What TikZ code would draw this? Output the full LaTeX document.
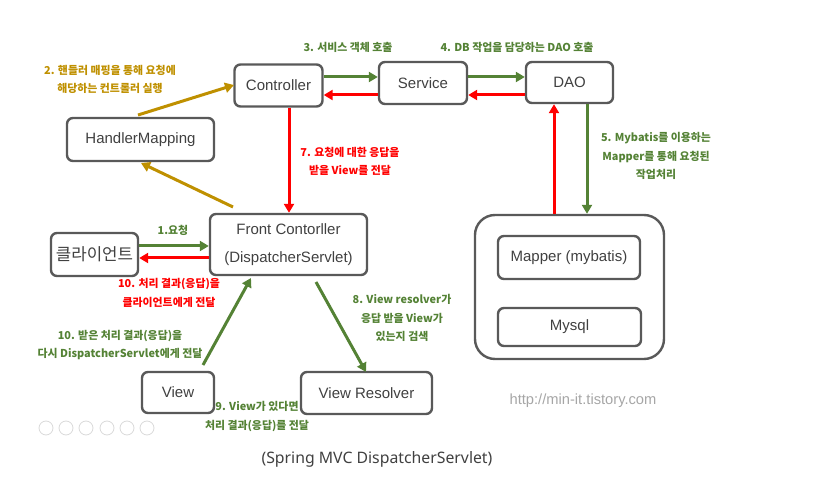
\documentclass[tikz,border=0pt]{standalone}
\usepackage{fontspec}
\setmainfont{Liberation Sans}
\newfontfamily\kr{Noto Sans CJK KR}
\newfontfamily\capfont{Noto Sans}
\usetikzlibrary{arrows.meta}
\definecolor{gr}{HTML}{548235}
\definecolor{rd}{HTML}{FF0000}
\definecolor{gd}{HTML}{BF9000}
\definecolor{bx}{HTML}{595959}
\definecolor{tx}{HTML}{404040}
\begin{document}
\begin{tikzpicture}[x=1pt,y=-1pt,
  box/.style={draw=bx,line width=2.4pt,rounded corners=6pt,inner sep=0pt,text=tx,font=\fontsize{15}{17}\selectfont},
  lbl/.style={font=\kr\bfseries\fontsize{10.9}{18.5}\selectfont,align=center,inner sep=0pt},
  arr/.style={line width=3pt,-{Triangle[length=9pt,width=10pt]}},
  garr/.style={arr,draw=gr,color=gr},
  rarr/.style={arr,draw=rd,color=rd},
  yarr/.style={arr,draw=gd,color=gd}]
\useasboundingbox (0,0) rectangle (823,481);
% boxes
\node[box,minimum width=88pt,minimum height=42pt] (ctrl) at (278.5,85.5) {Controller};
\node[box,minimum width=88pt,minimum height=42pt] (svc) at (423,83) {Service};
\node[box,minimum width=87pt,minimum height=41pt] (dao) at (569.5,82.5) {DAO};
\node[box,minimum width=147pt,minimum height=43pt] (hm) at (140.5,139.5) {HandlerMapping};
\node[box,minimum width=157pt,minimum height=61pt,align=center,font=\fontsize{15}{28}\selectfont] (fc) at (288.5,244.5) {Front Contorller\\(DispatcherServlet)};
\node[box,minimum width=87pt,minimum height=43pt,font=\kr\fontsize{16.8}{18}\selectfont] (cl) at (94.5,254.5) {클라이언트};
\node[box,minimum width=72pt,minimum height=41pt] (view) at (178,392.5) {View};
\node[box,minimum width=131pt,minimum height=42pt] (vr) at (366.5,393) {View Resolver};
\node[box,minimum width=189pt,minimum height=144pt,rounded corners=20pt] (db) at (569.5,287) {};
\node[box,minimum width=142pt,minimum height=43pt] (mp) at (569,257.5) {Mapper (mybatis)};
\node[box,minimum width=143pt,minimum height=38pt] (my) at (569.5,327) {Mysql};
% arrows
\draw[garr] (ctrl.east |- 0,77) -- (svc.west |- 0,77);
\draw[rarr] (svc.west |- 0,95) -- (ctrl.east |- 0,95);
\draw[garr] (svc.east |- 0,77) -- (dao.west |- 0,77);
\draw[rarr] (dao.west |- 0,95) -- (svc.east |- 0,95);
\draw[rarr] (db.north -| 554,0) -- (dao.south -| 554,0);
\draw[garr] (dao.south -| 587,0) -- (db.north -| 587,0);
\draw[rarr] (ctrl.south -| 289,0) -- (fc.north -| 289,0);
\coordinate (hmtop) at (138,115);
\coordinate (hmbot) at (141,163);
\coordinate (fctop) at (233,207);
\coordinate (ctrlin) at (234,85);
\draw[yarr] (hmtop) -- (ctrlin);
\draw[yarr] (fctop) -- (hmbot);
\draw[garr] (cl.east |- 0,246) -- (fc.west |- 0,246);
\draw[rarr] (fc.west |- 0,258) -- (cl.east |- 0,258);
\coordinate (vtop) at (203,365);
\coordinate (fcb1) at (251,278);
\draw[garr] (vtop) -- (fcb1);
\coordinate (fcb2) at (316,282);
\coordinate (vrtop) at (366,372);
\draw[garr] (fcb2) -- (vrtop);
% labels
\node[lbl,text=gd] (l2) at (110,79.5) {2. 핸들러 매핑을 통해 요청에\\해당하는 컨트롤러 실행};
\node[lbl,text=gr] (l3) at (348,47) {3. 서비스 객체 호출};
\node[lbl,text=gr] (l4) at (517,47) {4. DB 작업을 담당하는 DAO 호출};
\node[lbl,text=gr] (l5) at (656,156) {5. Mybatis를 이용하는\\Mapper를 통해 요청된\\작업처리};
\node[lbl,text=rd] (l7) at (350,161.5) {7. 요청에 대한 응답을\\받을 View를 전달};
\node[lbl,text=gr] (l1) at (173,230) {1.요청};
\node[lbl,text=rd] (l10a) at (169,293) {10. 처리 결과(응답)을\\클라이언트에게 전달};
\node[lbl,text=gr] (l8) at (402,318) {8. View resolver가\\응답 받을 View가\\있는지 검색};
\node[lbl,text=gr] (l10b) at (120,345) {10. 받은 처리 결과(응답)을\\다시 DispatcherServlet에게 전달};
\node[lbl,text=gr] (l9) at (257,416.5) {9. View가 있다면\\처리 결과(응답)를 전달};
\node[text=black!35,font=\fontsize{14.7}{17}\selectfont,inner sep=0pt] (url) at (583,401) {http://min-it.tistory.com};
\node[text=tx,font=\capfont\fontsize{15.8}{17}\selectfont,inner sep=0pt] (cap) at (377,459) {(Spring MVC DispatcherServlet)};
% toolbar icons
\foreach \i/\xx in {1/46,2/66,3/86,4/107,5/127,6/147}
  \node[circle,draw=black!15,line width=0.8pt,minimum size=14pt,inner sep=0pt] (tb\i) at (\xx,428) {};
\end{tikzpicture}
\end{document}
